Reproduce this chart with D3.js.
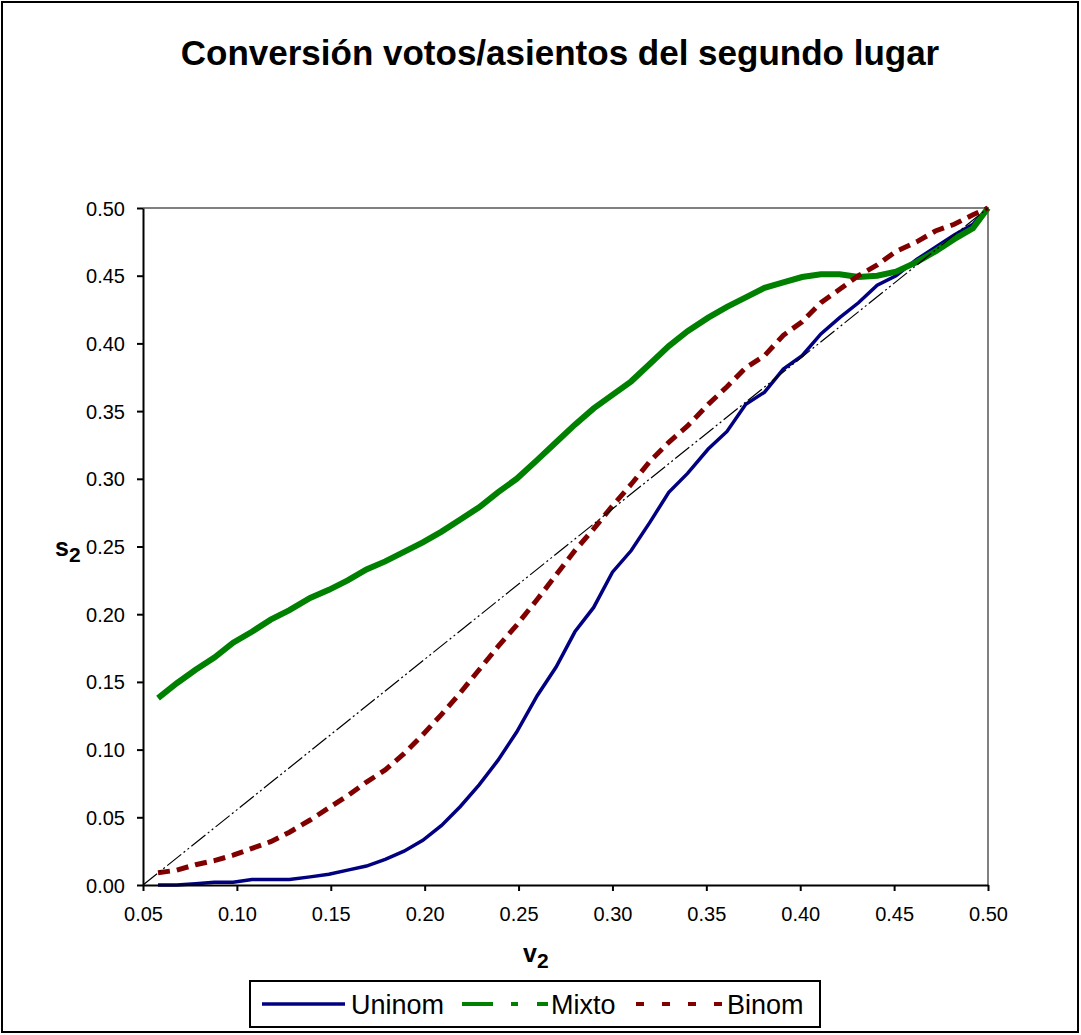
<!DOCTYPE html>
<html>
<head>
<meta charset="utf-8">
<script src="https://cdn.jsdelivr.net/npm/d3@7"></script>
<style>
  body { margin: 0; background: #fff; }
  svg text { font-family: "Liberation Sans", Arial, sans-serif; fill: #000; }
  .title { font-weight: bold; font-size: 35px; }
  .tick text { font-size: 20px; }
  .axis-title { font-weight: bold; font-size: 25px; }
  .legend-text { font-size: 27px; }
</style>
</head>
<body>
<div id="chart"></div>
<script>
// v2 values (share of votes of the second place)
var vShares = [0.058, 0.068, 0.078, 0.088, 0.098, 0.108, 0.118, 0.128, 0.139, 0.149,
               0.159, 0.169, 0.179, 0.189, 0.199, 0.209, 0.219, 0.229, 0.239, 0.249,
               0.260, 0.270, 0.280, 0.290, 0.300, 0.310, 0.320, 0.330, 0.340, 0.351,
               0.361, 0.371, 0.381, 0.391, 0.401, 0.411, 0.421, 0.431, 0.441, 0.451,
               0.462, 0.472, 0.482, 0.492, 0.500];

var uninom = [0.000, 0.000, 0.001, 0.002, 0.002, 0.004, 0.004, 0.004, 0.006, 0.008,
              0.011, 0.014, 0.019, 0.025, 0.033, 0.044, 0.058, 0.074, 0.092, 0.113,
              0.140, 0.161, 0.187, 0.205, 0.231, 0.247, 0.268, 0.290, 0.304, 0.322,
              0.335, 0.355, 0.364, 0.381, 0.391, 0.407, 0.419, 0.430, 0.443, 0.450,
              0.462, 0.471, 0.480, 0.488, 0.500];

var mixto = [0.138, 0.149, 0.159, 0.168, 0.179, 0.187, 0.196, 0.203, 0.212, 0.218,
             0.225, 0.233, 0.239, 0.246, 0.253, 0.261, 0.270, 0.279, 0.290, 0.300,
             0.314, 0.327, 0.340, 0.352, 0.362, 0.372, 0.385, 0.398, 0.409, 0.419,
             0.427, 0.434, 0.441, 0.445, 0.449, 0.451, 0.451, 0.449, 0.450, 0.453,
             0.460, 0.468, 0.477, 0.485, 0.500];

var binom = [0.009, 0.011, 0.015, 0.018, 0.022, 0.027, 0.032, 0.039, 0.048, 0.057,
             0.066, 0.076, 0.085, 0.097, 0.111, 0.126, 0.142, 0.159, 0.176, 0.192,
             0.211, 0.229, 0.247, 0.263, 0.280, 0.296, 0.313, 0.327, 0.339, 0.355,
             0.368, 0.382, 0.391, 0.406, 0.416, 0.430, 0.440, 0.450, 0.458, 0.468,
             0.475, 0.483, 0.488, 0.495, 0.500];

// proportional reference line
var diagV = [0.05, 0.50];
var diagS = [0.00, 0.50];

var xTicks = [0.05, 0.10, 0.15, 0.20, 0.25, 0.30, 0.35, 0.40, 0.45, 0.50];
var yTicks = [0.00, 0.05, 0.10, 0.15, 0.20, 0.25, 0.30, 0.35, 0.40, 0.45, 0.50];

var seriesNames = ["Uninom", "Mixto", "Binom"];
var seriesColors = ["#000080", "#008000", "#800000"];

var W = 1081, H = 1035;
var plot = {left: 143, right: 988, top: 208, bottom: 885};

var svg = d3.select('#chart').append('svg')
  .attr('width', W).attr('height', H);

// outer frame
svg.append('rect')
  .attr('x', 2).attr('y', 2)
  .attr('width', W - 5).attr('height', H - 5)
  .attr('fill', '#fff').attr('stroke', '#000').attr('stroke-width', 2);

svg.append('text').attr('class', 'title')
  .attr('x', 560).attr('y', 65)
  .attr('text-anchor', 'middle')
  .text('Conversión votos/asientos del segundo lugar');

var xScale = d3.scaleLinear().domain([0.05, 0.50]).range([plot.left, plot.right]);
var yScale = d3.scaleLinear().domain([0, 0.50]).range([plot.bottom, plot.top]);

// plot area frame (gray top/right)
svg.append('path')
  .attr('d', `M${plot.left},${plot.top}H${plot.right}V${plot.bottom}`)
  .attr('fill', 'none').attr('stroke', '#808080').attr('stroke-width', 2);

var line = d3.line()
  .x((d) => xScale(d[0]))
  .y((d) => yScale(d[1]));

let pairs = (ys) => vShares.map((v, i) => [v, ys[i]]);

let g = svg.append('g').attr('class', 'lines');

g.append('path').datum(pairs(uninom))
  .attr('d', line).attr('fill', 'none')
  .attr('stroke', seriesColors[0]).attr('stroke-width', 3.5);

g.append('path').datum(pairs(mixto))
  .attr('d', line).attr('fill', 'none')
  .attr('stroke', seriesColors[1]).attr('stroke-width', 6);

g.append('path').datum(pairs(binom))
  .attr('d', line).attr('fill', 'none')
  .attr('stroke', seriesColors[2]).attr('stroke-width', 5)
  .attr('stroke-dasharray', '12,7');

g.append('path').datum(diagV.map((v, i) => [v, diagS[i]]))
  .attr('d', line).attr('fill', 'none')
  .attr('stroke', '#000').attr('stroke-width', 1.2)
  .attr('stroke-dasharray', '18,3,2,3,2,3');

// axes
let yAxis = d3.axisLeft(yScale).tickValues(yTicks)
  .tickFormat(d3.format('.2f')).tickSize(6).tickSizeOuter(0).tickPadding(12);
let xAxis = d3.axisBottom(xScale).tickValues(xTicks)
  .tickFormat(d3.format('.2f')).tickSize(6).tickSizeOuter(0).tickPadding(16);

let y = svg.append('g').attr('class', 'yAxis')
  .attr('transform', `translate(${plot.left},0)`).call(yAxis);
let x = svg.append('g').attr('class', 'xAxis')
  .attr('transform', `translate(0,${plot.bottom})`).call(xAxis);

svg.selectAll('.domain').attr('stroke', '#000').attr('stroke-width', 2);
svg.selectAll('.tick line').attr('stroke', '#000').attr('stroke-width', 2);
svg.selectAll('.tick text').attr('fill', '#000').style('font-family', '"Liberation Sans", Arial, sans-serif');
y.selectAll('.tick text').attr('dy', '0.35em');

// axis titles
let st = svg.append('text').attr('class', 'axis-title')
  .attr('x', 55).attr('y', 556);
st.append('tspan').text('s');
st.append('tspan').attr('dy', 6).style('font-size', '21px').text('2');

let vt = svg.append('text').attr('class', 'axis-title')
  .attr('x', 523).attr('y', 962);
vt.append('tspan').text('v');
vt.append('tspan').attr('dy', 6).style('font-size', '21px').text('2');

// legend
let legend = svg.append('g').attr('class', 'legend');
legend.append('rect')
  .attr('x', 250).attr('y', 981).attr('width', 570).attr('height', 46)
  .attr('fill', '#fff').attr('stroke', '#000').attr('stroke-width', 2);

var legendItems = [
  {sx: 262, ex: 345, tx: 351, dash: null, w: 3.5},
  {sx: 462, ex: 549, tx: 551, dash: '31,18,7,19,11', w: 4},
  {sx: 636, ex: 724, tx: 727, dash: '8,18', w: 4}
];
legendItems.forEach((it, i) => {
  let l = legend.append('line')
    .attr('x1', it.sx).attr('x2', it.ex)
    .attr('y1', 1004).attr('y2', 1004)
    .attr('stroke', seriesColors[i]).attr('stroke-width', it.w);
  if (it.dash) l.attr('stroke-dasharray', it.dash);
  legend.append('text').attr('class', 'legend-text')
    .attr('x', it.tx).attr('y', 1014)
    .text(seriesNames[i]);
});
</script>
</body>
</html>
